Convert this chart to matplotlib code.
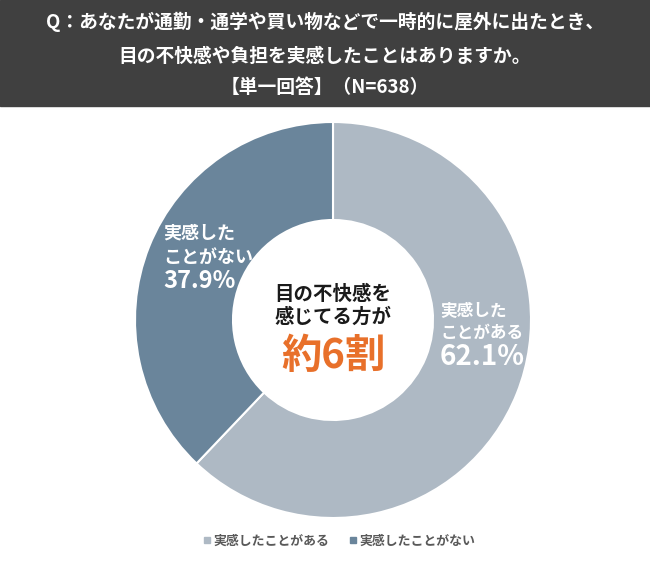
import matplotlib.pyplot as plt
from matplotlib.lines import Line2D
from matplotlib.patches import Rectangle

plt.rcParams['font.family'] = ['Noto Sans CJK JP', 'DejaVu Sans']

# -------------------------------
# Data
# -------------------------------
categories = ["実感したことがある", "実感したことがない"]
values = [62.1, 37.9]
slice_labels = [["実感した", "ことがある"], ["実感した", "ことがない"]]
colors = ["#aeb9c4", "#6a859b"]

title_lines = [
    "Q：あなたが通勤・通学や買い物などで一時的に屋外に出たとき、",
    "目の不快感や負担を実感したことはありますか。",
    "【単一回答】（N=638）",
]

W, H = 650, 564
fig = plt.figure(figsize=(W / 100, H / 100), dpi=100)

# -------------------------------
# Header band
# -------------------------------
fig.patches.append(Rectangle((0, 1 - 106 / H), 1, 106 / H, transform=fig.transFigure,
                             color="#404040", zorder=0))
for line, py in zip(title_lines, [22, 56, 87]):
    fig.text(0.5, 1 - py / H, line, ha="center", va="center", color="white",
             fontsize=13.5, fontweight="bold")

# -------------------------------
# Donut
# -------------------------------
cx, cy, half = 333, 320, 200
ax = fig.add_axes([(cx - half) / W, 1 - (cy + half) / H, 2 * half / W, 2 * half / H])
ax.pie(values, colors=colors, startangle=90, counterclock=False, radius=0.99,
       wedgeprops=dict(width=0.49, edgecolor="white", linewidth=1.5))
ax.set_xlim(-1, 1)
ax.set_ylim(-1, 1)
ax.set_aspect("equal")
ax.axis("off")


def px(x, y):
    return (x - cx) / half, (cy - y) / half


# slice labels: (x, y line1, y line2, y pct, label size, pct size)
label_pos = [(440, 311, 333, 357, 12, 20), (163, 233, 257, 281, 13, 17)]
for lines, val, (x, y1, y2, vy, ls, vs) in zip(slice_labels, values, label_pos):
    ax.text(*px(x, y1), lines[0], ha="left", va="center", color="white",
            fontsize=ls, fontweight="bold")
    ax.text(*px(x, y2), lines[1], ha="left", va="center", color="white",
            fontsize=ls, fontweight="bold")
    ax.text(*px(x, vy), f"{val}%", ha="left", va="center",
            color="white", fontsize=vs, fontweight="bold")

# center text
ax.text(*px(cx, 294), "目の不快感を", ha="center", va="center",
        color="#1a1a1a", fontsize=14, fontweight="bold")
ax.text(*px(cx, 317), "感じてる方が", ha="center", va="center",
        color="#1a1a1a", fontsize=14, fontweight="bold")
ax.text(*px(cx, 357), "約6割", ha="center", va="center", color="#e8702a",
        fontsize=29, fontweight="bold")

# -------------------------------
# Legend
# -------------------------------
handles = [Line2D([], [], marker="s", linestyle="", color=c, markersize=4.5)
           for c in colors]
fig.legend(handles, categories, loc="center", bbox_to_anchor=(0.52, 1 - 541 / H),
           ncol=2, frameon=False, labelcolor="#595959",
           prop=dict(weight="bold", size=9.3),
           handletextpad=0.05, columnspacing=1.3, handlelength=1.0)

fig.savefig("out.png", dpi=100)
